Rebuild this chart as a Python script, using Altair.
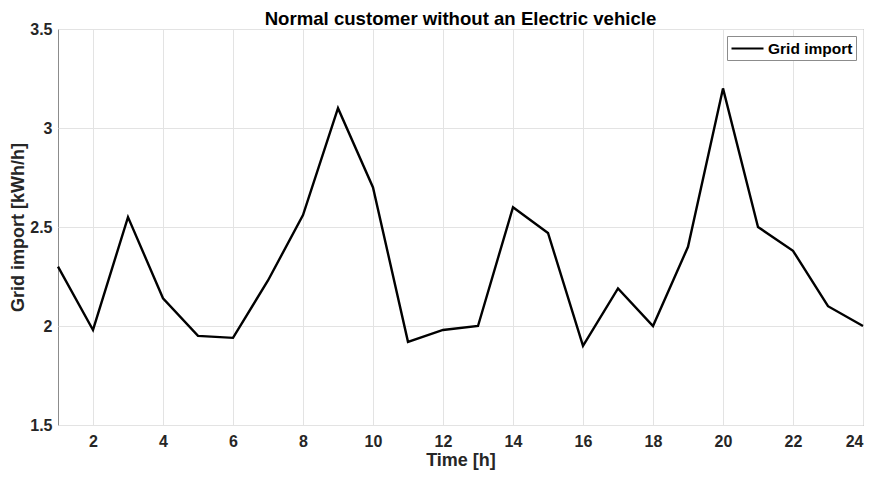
import altair as alt
import pandas as pd

hours = list(range(1, 25))
grid_import = [2.30, 1.98, 2.55, 2.14, 1.95, 1.94, 2.23, 2.56, 3.10, 2.70,
               1.92, 1.98, 2.00, 2.60, 2.47, 1.90, 2.19, 2.00, 2.40, 3.20,
               2.50, 2.38, 2.10, 2.00]
x_ticks = list(range(2, 25, 2))
y_ticks = [1.5, 2.0, 2.5, 3.0, 3.5]

df = pd.DataFrame({"Time": hours, "Value": grid_import, "series": ["Grid import"] * len(hours)})

FONT = "Liberation Sans"
TXT = "#262626"

line = alt.Chart(df).mark_line(strokeWidth=2.4, strokeJoin="miter").encode(
    x=alt.X("Time:Q",
            scale=alt.Scale(domain=[1, 24], nice=False, zero=False),
            axis=alt.Axis(values=x_ticks, title="Time [h]", format="d",
                          tickSize=0, labelPadding=8, titlePadding=2)),
    y=alt.Y("Value:Q",
            scale=alt.Scale(domain=[1.5, 3.5], nice=False, zero=False),
            axis=alt.Axis(values=y_ticks, title="Grid import [kWh/h]", format="~g",
                          tickSize=0, labelPadding=6,
                          titleX=-40, titleY=198, titleAngle=-90,
                          titleAlign="center", titleBaseline="middle")),
    color=alt.Color("series:N",
                    scale=alt.Scale(range=["black"]),
                    legend=alt.Legend(title=None, orient="top-right", offset=7,
                                      symbolType="M-2,0H2", symbolSize=256,
                                      symbolOffset=8, symbolStrokeWidth=2.2,
                                      labelOffset=11, labelFont=FONT,
                                      labelFontSize=15.5, labelFontWeight="bold",
                                      labelColor="black",
                                      strokeColor="#8c8c8c", fillColor="white",
                                      padding=3)),
)

chart = line.properties(
    width=805,
    height=396,
    title=alt.TitleParams("Normal customer without an Electric vehicle",
                          font=FONT, fontSize=18.6, fontWeight="bold",
                          color="black", anchor="middle", offset=0, dy=8),
    padding={"left": 50, "top": 21, "right": 6, "bottom": 45},
    autosize=alt.AutoSizeParams(type="none"),
).configure_view(
    stroke="#8c8c8c", strokeWidth=1
).configure_axis(
    labelFont=FONT, labelFontSize=16, labelFontWeight="bold", labelColor=TXT,
    titleFont=FONT, titleFontSize=18, titleFontWeight="bold", titleColor=TXT,
    gridColor="#e3e3e3", gridWidth=1, domain=False,
)

chart.save("out.html", embed_options={"renderer": "svg", "actions": False})
